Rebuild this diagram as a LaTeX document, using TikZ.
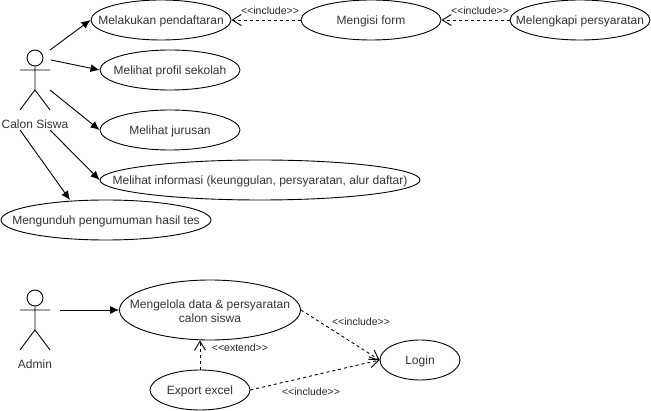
\documentclass[tikz,border=0pt]{standalone}
\usepackage{fontspec}
\setmainfont{Liberation Sans}
\usetikzlibrary{shapes.geometric,arrows.meta}
\tikzset{
  usecase/.style={draw=black,ellipse,line width=0.9pt,minimum height=40pt,minimum width=140pt,inner xsep=-50pt,inner ysep=-5pt,align=center,font=\fontsize{12}{14}\selectfont,text=black!80,text height=12pt,text depth=3pt},
  assoc/.style={draw=black,line width=0.9pt,-{Latex[length=9pt,width=8pt]}},
  dep/.style={draw=black,line width=0.9pt,dash pattern=on 3pt off 3pt,-{Straight Barb[length=9pt,width=11pt]}},
  actorline/.style={draw=black,line width=0.9pt},
  actorlabel/.style={font=\fontsize{12}{14}\selectfont,text=black!80,inner sep=0pt},
  deplabel/.style={font=\fontsize{10.5}{12}\selectfont,text=black!85,inner sep=0pt}
}
\newcommand{\inc}{<{}<include>{}>}
\newcommand{\ext}{<{}<extend>{}>}
\begin{document}
\begin{tikzpicture}[x=1pt,y=-1pt]
\useasboundingbox (0,0) rectangle (651,411);
% use cases
\node[usecase] (daftar) at (161,20) {Melakukan pendaftaran};
\node[usecase] (profil) at (170,70) {Melihat profil sekolah};
\node[usecase] (jurusan) at (170,130) {Melihat jurusan};
\node[usecase,minimum width=320pt] (info) at (260,180) {Melihat informasi (keunggulan, persyaratan, alur daftar)};
\node[usecase,minimum width=210pt] (unduh) at (106,220) {Mengunduh pengumuman hasil tes};
\node[usecase] (form) at (371,20) {Mengisi form};
\node[usecase] (syarat) at (580,20) {Melengkapi persyaratan};
\node[usecase,minimum width=181pt,minimum height=60pt,text height=,text depth=] (kelola) at (210,310) {\rule{0pt}{11pt}Mengelola data \& persyaratan\\calon siswa};
\node[usecase,minimum width=100pt] (export) at (200,390) {Export excel};
\node[usecase,minimum width=80pt] (login) at (420,360) {Login};
% actor: Calon Siswa
\node[draw=black,circle,line width=0.9pt,minimum size=16pt,inner sep=0pt] (headA) at (35,58) {};
\coordinate (hipA) at (35,90);
\coordinate (armAl) at (20,70);
\coordinate (armAr) at (50,70);
\coordinate (legAl) at (20,110);
\coordinate (legAr) at (50,110);
\draw[actorline] (headA.south) -- (hipA) (armAl) -- (armAr) (legAl) -- (hipA) -- (legAr);
\node[actorlabel] (calon) at (35,124) {Calon Siswa};
% actor: Admin
\node[draw=black,circle,line width=0.9pt,minimum size=16pt,inner sep=0pt] (headB) at (35,298) {};
\coordinate (hipB) at (35,330);
\coordinate (armBl) at (20,310);
\coordinate (armBr) at (50,310);
\coordinate (legBl) at (20,350);
\coordinate (legBr) at (50,350);
\draw[actorline] (headB.south) -- (hipB) (armBl) -- (armBr) (legBl) -- (hipB) -- (legBr);
\node[actorlabel] (admin) at (35,364) {Admin};
% free ends
\coordinate (a1) at (50,50);
\coordinate (a2) at (51,60);
\coordinate (a3) at (50,90);
\coordinate (a4) at (50,130);
\coordinate (a5) at (20,130);
\coordinate (a5e) at (70,200);
\coordinate (b1) at (60,310);
% associations
\draw[assoc] (a1) -- (daftar.west);
\draw[assoc] (a2) -- (profil.west);
\draw[assoc] (a3) -- (jurusan.west);
\draw[assoc] (a4) -- (info.west);
\draw[assoc] (a5) -- (a5e);
\draw[assoc] (b1) -- (kelola.west);
% dependencies
\draw[dep] (form.west) -- (daftar.east);
\draw[dep] (syarat.west) -- (form.east);
\draw[dep] (kelola.east) -- (login.west);
\draw[dep] (export.east) -- (login.west);
\draw[dep] (export.north) -- (kelola.south -| export.north);
% labels
\node[deplabel] (l1) at (270,11) {\inc};
\node[deplabel] (l2) at (480,11) {\inc};
\node[deplabel] (l3) at (361,322) {\inc};
\node[deplabel] (l4) at (311,392) {\inc};
\node[deplabel] (l5) at (240,348) {\ext};
\end{tikzpicture}
\end{document}
